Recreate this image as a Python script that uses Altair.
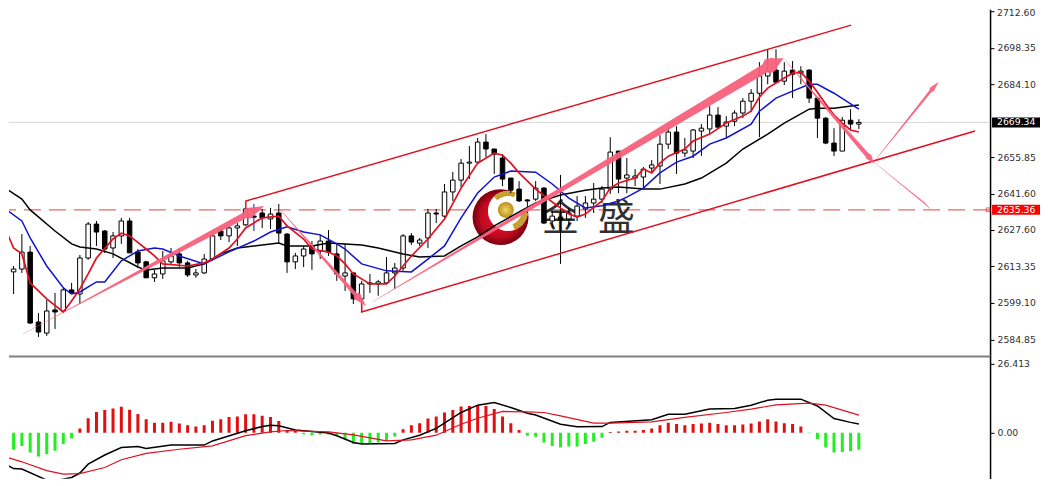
import altair as alt
import pandas as pd

# ---------- candles: high, body top, body bottom, low, direction (U up, D down, N navy spike) ----------
highs = [2617.4,2613.5,2625.9,2621.3,2595.2,2600.3,2603.0,2605.0,2606.9,2617.8,2630.6,2631.0,2627.5,2626.7,2632.2,2632.2,2620.1,2615.5,2612.0,2619.3,
         2620.5,2620.5,2615.5,2612.3,2618.2,2625.9,2628.3,2629.1,2630.2,2636.1,2637.6,2635.7,2636.1,2637.6,2626.3,2618.6,2621.3,2623.2,2625.6,2627.5,
         2622.1,2622.1,2610.8,2607.7,2610.4,2608.1,2617.0,2614.7,2625.9,2626.3,2624.4,2635.7,2635.7,2645.4,2650.1,2655.1,2660.2,2663.3,2664.8,2659.0,
         2657.0,2647.7,2646.5,2639.5,2646.5,2644.2,2634.9,2648.9,2636.1,2640.7,2640.7,2645.8,2644.6,2663.6,2658.2,2655.5,2651.2,2652.0,2654.7,2664.4,
         2667.9,2667.9,2663.3,2666.8,2668.7,2675.7,2675.3,2671.8,2674.1,2678.8,2682.3,2692.8,2697.8,2697.8,2692.8,2693.2,2691.2,2690.1,2678.8,2671.4,
         2667.1,2671.4,2674.5,2670.6]
body_tops = [2611.2,2612.3,2618.9,2618.9,2591.7,2596.0,2596.4,2604.2,2604.2,2616.6,2629.8,2629.8,2627.1,2625.2,2631.0,2631.0,2618.9,2615.1,2610.4,2615.5,
         2617.4,2618.2,2614.7,2610.8,2616.2,2625.2,2627.1,2628.3,2629.1,2635.7,2632.9,2634.1,2633.7,2634.1,2625.9,2617.4,2620.1,2621.3,2623.2,2623.2,
         2618.2,2610.8,2610.8,2606.5,2606.9,2607.3,2610.8,2612.7,2625.2,2625.2,2623.6,2634.1,2634.1,2642.3,2646.9,2653.5,2653.9,2661.7,2661.7,2659.0,
         2655.5,2647.7,2643.4,2639.2,2643.8,2643.8,2632.9,2632.5,2634.1,2636.8,2638.0,2639.5,2643.4,2657.8,2658.2,2648.9,2648.5,2651.2,2652.8,2660.9,
         2665.6,2665.6,2658.6,2666.4,2667.1,2672.2,2672.2,2669.5,2673.0,2677.6,2680.7,2687.4,2689.3,2689.7,2689.3,2689.7,2689.3,2689.7,2678.8,2671.0,
         2661.3,2670.2,2670.2,2669.34]
body_bottoms = [2603.4,2611.2,2612.3,2591.3,2587.8,2587.4,2595.6,2596.0,2603.0,2602.6,2616.6,2626.7,2620.1,2620.5,2625.2,2618.6,2614.7,2608.9,2608.9,2610.4,
         2615.1,2614.7,2610.0,2610.0,2610.8,2616.2,2625.2,2625.2,2628.3,2629.5,2632.5,2632.2,2631.8,2626.3,2615.1,2615.1,2617.4,2618.2,2619.3,2618.9,
         2610.4,2609.6,2600.7,2600.7,2606.5,2606.5,2606.9,2610.8,2612.7,2622.8,2622.4,2624.4,2633.7,2632.9,2642.3,2646.9,2653.5,2653.9,2659.0,2657.0,
         2647.3,2643.0,2638.8,2638.8,2639.5,2630.2,2631.0,2631.4,2631.8,2632.9,2635.7,2638.0,2639.5,2643.4,2647.3,2647.7,2647.7,2648.1,2651.6,2652.4,
         2660.9,2657.4,2657.4,2658.2,2666.0,2666.8,2667.5,2667.9,2669.8,2673.0,2677.6,2680.7,2687.4,2685.0,2685.4,2688.1,2688.5,2678.8,2671.0,2661.3,
         2658.2,2658.2,2668.7,2668.7]
lows = [2582.4,2602.6,2610.8,2590.9,2585.9,2586.3,2589.0,2595.2,2602.6,2598.7,2615.9,2621.3,2618.6,2616.6,2622.1,2618.6,2612.7,2608.9,2607.3,2608.5,
         2614.3,2613.1,2609.2,2608.9,2610.4,2615.5,2623.6,2622.8,2621.3,2629.1,2627.1,2628.3,2627.9,2622.4,2610.8,2612.3,2613.1,2612.0,2616.2,2617.4,
         2607.7,2603.8,2598.7,2595.6,2603.0,2601.9,2606.5,2604.6,2611.6,2621.7,2621.3,2620.5,2630.2,2632.2,2638.8,2644.2,2647.3,2653.5,2655.9,2649.3,
         2644.6,2641.8,2638.4,2634.1,2638.8,2629.8,2628.3,2614.3,2629.1,2631.0,2632.2,2634.1,2638.0,2641.5,2641.8,2641.8,2644.6,2643.8,2649.7,2645.4,
         2659.0,2649.3,2655.9,2655.5,2656.3,2664.8,2667.1,2663.6,2667.9,2671.0,2673.4,2663.6,2684.2,2684.6,2683.9,2678.8,2684.2,2676.9,2663.3,2660.9,
         2656.3,2658.2,2666.8,2666.8]
directions = list("UUUDDUDUDUUDDUUDDDUUUDDUUUDUUUNDUDDUUDUDDUDUDUUUUDUUDUUUUUDDDDDDUDUDUUUUUUDUUUUUUDUUUUDUUUUUUDUDUDDDDUDU")

# ---------- moving averages (bar index, price) ----------
red_bars = [0,1,2,3,5,7,8,9,10,11,13,14,15,17,18,19,22,24,25,27,28,29,31,33,34,36,37,39,40,41,42,44,46,47,49,51,53,55,57,59,60,61,62,64,66,68,69,70,72,73,74,76,77,78,79,80,82,83,85,87,89,90,91,92,94,95,96,97,98,99,100,101,102,103]
red_ma = [2627.9,2620.5,2618.2,2606.9,2600.7,2595.6,2599.9,2604.6,2610.4,2616.6,2624.0,2626.3,2625.2,2620.1,2617.4,2614.3,2613.5,2614.7,2616.2,2620.5,2624.0,2628.3,2632.2,2632.9,2629.1,2624.0,2620.1,2618.9,2617.4,2614.3,2610.4,2606.5,2606.5,2609.6,2617.4,2624.0,2631.8,2643.8,2653.5,2657.4,2656.6,2653.5,2649.7,2643.4,2638.4,2633.7,2632.5,2633.7,2638.8,2643.8,2645.8,2647.7,2651.2,2649.7,2653.5,2656.2,2659.0,2662.1,2664.8,2669.1,2671.8,2673.7,2679.2,2682.7,2686.6,2688.5,2688.9,2685.4,2681.1,2676.5,2672.2,2669.1,2666.4,2665.6]
blue_bars = [0,2,3,5,7,8,9,11,12,14,16,18,19,21,24,25,27,30,32,34,36,38,40,41,43,46,49,51,53,55,57,59,61,64,66,68,70,72,74,75,77,79,81,83,85,87,90,91,93,95,97,98,100,103]
blue_ma = [2635.7,2631.0,2624.4,2613.5,2605.0,2602.6,2603.4,2607.3,2607.3,2615.5,2619.3,2620.5,2620.1,2617.4,2614.3,2615.9,2619.0,2623.2,2626.7,2628.7,2626.7,2625.6,2622.1,2620.1,2614.3,2611.6,2611.2,2616.2,2621.3,2632.2,2641.9,2648.1,2650.4,2650.0,2645.4,2639.9,2636.1,2636.9,2638.8,2640.3,2643.8,2649.7,2653.9,2656.2,2660.9,2663.3,2668.7,2673.7,2678.8,2681.5,2684.2,2684.2,2680.7,2674.5]
black_bars = [0,2,3,6,8,9,11,13,16,17,19,22,24,26,28,31,33,34,37,39,43,45,48,50,53,55,57,59,62,64,67,70,72,74,77,79,82,84,87,89,92,94,97,98,100,103]
black_ma = [2643.8,2639.5,2635.3,2627.1,2622.1,2620.9,2620.1,2618.2,2613.1,2611.9,2612.7,2612.7,2614.3,2618.2,2620.5,2621.7,2622.4,2621.3,2621.3,2622.4,2621.7,2620.5,2618.2,2617.0,2617.4,2621.3,2624.8,2629.1,2634.5,2638.0,2641.1,2643.0,2643.8,2644.2,2643.4,2643.4,2645.4,2647.7,2653.5,2659.0,2664.8,2669.1,2674.5,2674.9,2674.9,2676.1]

# ---------- MACD panel ----------
histogram = [-6.3,-6.5,-5.0,-7.5,-9.1,-8.2,-6.9,-4.3,-2.2,1.7,5.6,8.0,8.7,9.3,10.0,8.8,7.2,5.2,3.9,3.9,4.2,3.6,2.9,2.4,2.9,4.6,5.2,6.1,6.3,7.1,7.1,6.5,6.1,4.5,1.1,0.8,-0.5,-0.9,-0.6,-0.6,-1.1,-2.4,-4.3,-4.3,-4.0,-3.7,-3.1,-1.4,1.4,2.9,3.7,5.5,6.3,7.8,8.7,10.1,10.3,10.6,10.3,9.1,6.3,3.7,1.1,-1.1,-1.5,-3.7,-5.0,-5.6,-5.2,-5.2,-4.3,-3.4,-1.9,0.3,0.5,0.8,0.8,1.1,1.7,2.9,3.9,3.4,2.9,3.4,3.6,3.9,3.4,2.9,2.9,3.2,3.6,4.3,5.2,4.3,3.7,3.4,2.4,-0.2,-2.4,-5.6,-7.5,-7.3,-7.0,-6.5]
macd_bars = [0,1,2,5,6,8,9,10,12,14,16,17,20,24,25,29,31,32,33,35,39,40,42,43,47,48,50,52,55,57,59,61,63,64,67,69,72,73,78,80,82,85,88,90,92,93,96,98,100,102,103]
macd_line = [-12.0,-13.7,-13.9,-18.1,-18.4,-17.1,-15.4,-12.0,-8.5,-5.6,-5.2,-6.0,-4.7,-4.7,-3.1,0.8,2.4,2.9,2.7,1.1,-0.1,-1.1,-3.7,-4.3,-4.1,-2.7,-0.9,1.7,7.8,10.6,11.6,9.7,7.5,6.8,3.3,2.3,2.4,4.0,5.0,7.1,7.1,9.1,9.3,10.6,12.5,12.9,12.9,10.3,5.5,4.0,3.4]
signal_bars = [0,2,5,7,9,12,14,17,21,25,29,32,34,39,42,46,49,52,55,57,60,63,65,67,71,73,78,82,87,90,93,97,99,103]
signal_line = [-9.2,-11.1,-14.5,-15.8,-15.6,-13.3,-10.3,-7.9,-6.3,-5.0,-1.1,0.4,0.9,0.4,-0.8,-3.1,-2.7,-0.9,3.3,5.6,8.2,8.0,7.8,6.5,3.7,3.7,4.2,5.9,7.8,9.1,10.7,11.4,10.6,6.8]

# ---------- drawn objects (bar index, price) ----------
channel_upper = [(29.02,2635.7),(29.02,2638.76),(102.07,2707.2)]
channel_lower = [(43.0,2599.1),(43.0,2595.6),(117.02,2666.0)]
arrows = {
    "a1": [(2.13,2587.1,0.3),(7.08,2595.6,0.8),(29.4,2634.1,6.5),(29.41,2634.1,11),(31.2,2636.8,0.2)],
    "a2": [(33.0,2636.0,0.3),(42.5,2601.5,4),(42.51,2601.5,7.5),(43.5,2598.0,0.2)],
    "a3": [(44.3,2599.5,0.3),(92.3,2691.6,9.5),(92.31,2691.6,15),(93.9,2694.3,0.2)],
    "a4": [(93.9,2694.3,0.3),(104.2,2655.9,4.5),(104.21,2655.9,6),(104.8,2653.5,0.2)],
    "a5": [(104.8,2653.9,0.2),(111.83,2682.3,2.6),(111.84,2682.3,5),(112.6,2685.0,0.2)],
    "a6": [(104.8,2653.9,0.1),(110.9,2638.0,1.4),(111.6,2635.7,0.2)],
}
name_chars = ["金","盛"]
name_bars = [67.0,73.75]
name_price = 2631.4

top_price = 2712.60
price_ticks = [top_price,2698.35,2684.10,2655.85,2641.60,2627.60,2613.35,2599.10,2584.85]
last_price = 2669.34
level_price = 2635.36
macd_ticks = [26.413,0.0]

FONT = "DejaVu Sans"
X = alt.Scale(domain=[0.446,118.83], nice=False, zero=False, padding=0)
YP = alt.Scale(domain=[2578.91,2713.38], nice=False, zero=False, padding=0)
YM = alt.Scale(domain=[-17.6,29.86], nice=False, zero=False, padding=0)
AXIS_COMMON = dict(orient="right", title=None, grid=False, domainColor="#000000", domainWidth=1.5, tickColor="#000000",
                   tickSize=4, labelPadding=3, labelFont=FONT, labelColor="#303030",
                   labelOverlap=False, labelBound=False, labelFlush=False)
price_axis = alt.Axis(values=price_ticks, labelExpr="datum.value>2700 ? '' : format(datum.value,'.2f')",
                      labelFontSize={"condition":{"test":"datum.value>2700","value":1},"value":9.3}, **AXIS_COMMON)
macd_axis = alt.Axis(values=macd_ticks, labelExpr="datum.value>1 ? '26.413' : '0.00'", labelFontSize=9.3, **AXIS_COMMON)
xq = lambda f="x": alt.X(f"{f}:Q", scale=X, axis=None)
def yp(f="y"):
    return alt.Y(f"{f}:Q", scale=YP, axis=price_axis)
def ym(f="y"):
    return alt.Y(f"{f}:Q", scale=YM, axis=macd_axis)

candles = pd.DataFrame({"x":range(len(highs)),"h":highs,"t":body_tops,"b":body_bottoms,"l":lows,"d":directions})
candles["wick"] = candles.d.map({"U":"#000000","D":"#000000","N":"#10108a"})
candles["fill"] = candles.d.map({"U":"#ffffff","D":"#000000","N":"#10108a"})
wicks = alt.Chart(candles).mark_rule(strokeWidth=1, clip=True).encode(x=xq(), y=yp("h"), y2="l:Q", color=alt.Color("wick:N", scale=None))
bodies = alt.Chart(candles).mark_bar(size=4.5, strokeWidth=1, stroke="#000000", clip=True).encode(
    x=xq(), y=yp("t"), y2="b:Q", fill=alt.Fill("fill:N", scale=None))

def line(xs, ys, color, w, yenc):
    df = pd.DataFrame({"x":xs,"y":ys})
    return alt.Chart(df).mark_line(color=color, strokeWidth=w, interpolate="linear", clip=True).encode(x=xq(), y=yenc())

def seg(points, color, w):
    df = pd.DataFrame(points, columns=["x","y"]); df["o"]=range(len(df))
    return alt.Chart(df).mark_line(color=color, strokeWidth=w).encode(x=xq(), y=yp(), order="o:Q")

trail_rows = [dict(a=k,o=i,x=p[0],y=p[1],w=p[2]) for k,v in arrows.items() for i,p in enumerate(v)]
trails = alt.Chart(pd.DataFrame(trail_rows)).mark_trail(color="#f9607c", opacity=0.95).encode(
    x=xq(), y=yp(), detail="a:N", order="o:Q", size=alt.Size("w:Q", scale=None))

# logo
logo_pt = pd.DataFrame({"x":[59.76],"y":[2632.5]})
inner_pt = pd.DataFrame({"x":[60.65],"y":[2634.9]})
ball_pt = pd.DataFrame({"x":[60.4],"y":[2635.3]})
disc = alt.Chart(logo_pt).mark_arc(outerRadius=28, innerRadius=0, theta=0, theta2=6.2832,
    fill=alt.Gradient(gradient="radial", stops=[alt.GradientStop(color="#f01030",offset=0),alt.GradientStop(color="#c00a20",offset=0.7),alt.GradientStop(color="#780010",offset=1)])
    ).encode(x=xq(), y=yp())
hole = alt.Chart(inner_pt).mark_arc(outerRadius=20, innerRadius=0, theta=0, theta2=6.2832, fill="#ffffff").encode(x=xq(), y=yp())
gold1 = alt.Chart(inner_pt).mark_arc(outerRadius=20, innerRadius=15, theta=5.5, theta2=6.7, fill="#c8a030").encode(x=xq(), y=yp())
gold2 = alt.Chart(inner_pt).mark_arc(outerRadius=20, innerRadius=14, theta=1.5, theta2=2.8, fill="#c8a030").encode(x=xq(), y=yp())
ball = alt.Chart(ball_pt).mark_arc(outerRadius=8, innerRadius=0, theta=0, theta2=6.2832,
    fill=alt.Gradient(gradient="radial", stops=[alt.GradientStop(color="#f0d860",offset=0),alt.GradientStop(color="#b89020",offset=1)])).encode(x=xq(), y=yp())
name_df = pd.DataFrame({"x":name_bars,"y":[2631.4]*2,"t":name_chars})
name = alt.Chart(name_df).mark_text(font="Noto Sans CJK SC", fontSize=37, color="#303030", baseline="middle", align="center").encode(x=xq(), y=yp(), text="t:N")

level_rule = alt.Chart(pd.DataFrame({"y":[level_price]})).mark_rule(color="#e86a6a", strokeWidth=1.2, strokeDash=[17,8]).encode(y=yp())
last_rule = alt.Chart(pd.DataFrame({"y":[last_price]})).mark_rule(color="#d8d8d8", strokeWidth=1).encode(y=yp())

def badge(value, bg):
    d = pd.DataFrame({"y":[value+1.94],"y2":[value-1.94],"v":[value],"s":[f"{value:.2f}"]})
    r = alt.Chart(d).mark_rect(color=bg).encode(x=alt.value(984), x2=alt.value(1032), y=yp(), y2="y2:Q")
    t = alt.Chart(d).mark_text(font=FONT, fontSize=9.3, color="#ffffff", align="left", baseline="middle").encode(x=alt.value(989), y=yp("v"), text="s:N")
    return r + t

top_label = alt.Chart(pd.DataFrame({"y":[top_price],"s":[f"{top_price:.2f}"]})).mark_text(
    font=FONT, fontSize=9.3, color="#303030", align="left", baseline="middle", dy=1.5).encode(x=alt.value(989), y=yp(), text="s:N")

level_box = alt.Chart(pd.DataFrame({"x":[118.6],"y":[level_price]})).mark_point(shape="square", size=14, color="#e02020", filled=False, strokeWidth=1).encode(x=xq(), y=yp())

upper = alt.layer(
    level_rule, last_rule, disc, hole, gold1, gold2, ball, name, wicks, bodies,
    line(black_bars, black_ma, "#000000", 1.5, yp),
    line(blue_bars, blue_ma, "#1212d0", 1.5, yp),
    line(red_bars, red_ma, "#e01020", 1.7, yp),
    seg(channel_upper, "#e01020", 1.5), seg(channel_lower, "#e01020", 1.5),
    trails, level_box, top_label, badge(last_price,"#000000"), badge(level_price,"#ff0000"),
).properties(width=982, height=346)

hist_df = pd.DataFrame({"x":range(len(histogram)),"v":histogram})
hist_df["c"] = ["#e01010" if v>0 else "#22ee22" for v in histogram]
hist = alt.Chart(hist_df).mark_bar(size=3, clip=True).encode(x=xq(), y=ym("v"), y2=alt.datum(0), color=alt.Color("c:N", scale=None))
sep = alt.Chart(pd.DataFrame({"y":[29.2]})).mark_rule(color="#808080", strokeWidth=2).encode(y=ym())
lower = alt.layer(sep, hist,
    line(macd_bars, macd_line, "#000000", 1.5, ym),
    line(signal_bars, signal_line, "#e01020", 1.2, ym),
).properties(width=982, height=124)

chart = alt.vconcat(upper, lower, spacing=0, bounds="flush").properties(
    padding={"left":0,"top":0,"right":0,"bottom":0}, background="#ffffff"
).configure_view(stroke=None)

chart.save("out.html", embed_options={"renderer": "svg", "actions": False})
